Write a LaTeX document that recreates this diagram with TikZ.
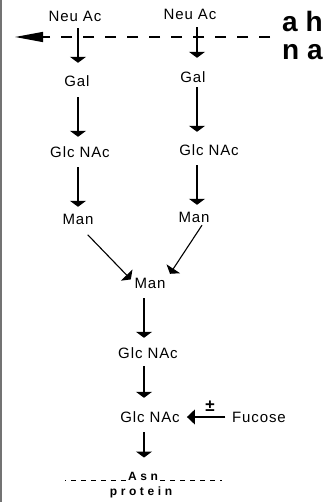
\documentclass[tikz,border=0pt]{standalone}
\usepackage{fontspec}
\setmainfont{Liberation Sans}
\newfontfamily\labfont[LetterSpace=6]{Liberation Sans}
\newfontfamily\spfont[LetterSpace=30]{Liberation Sans}
\usetikzlibrary{arrows.meta}
\begin{document}
\begin{tikzpicture}[x=1pt,y=-1pt,
  lab/.style={font=\labfont\fontsize{15}{18}\selectfont, inner sep=0pt, text height=11pt, text depth=0pt},
  sp/.style={font=\spfont\bfseries\fontsize{12}{14}\selectfont, inner sep=0pt},
  big/.style={font=\bfseries\fontsize{28}{30}\selectfont, inner sep=0pt},
  arr/.style={line width=1.1pt, -{Triangle[width=16pt,length=6pt]}},
  dasharr/.style={line width=1.3pt, dash pattern=on 11pt off 11pt, -{Triangle[width=10pt,length=28pt]}},
  smalldash/.style={line width=0.9pt, dash pattern=on 5pt off 5pt}
]
\useasboundingbox (0,0) rectangle (333,502);
\fill[white] (0,0) rectangle (333,502);
\draw[line width=2pt, black!55] (1,0) -- (1,502);

% column guides
\coordinate (colL) at (78,0);
\coordinate (colR) at (197,0);
\coordinate (colC) at (144,0);

% nodes
\node[lab] (neuL) at (75,16) {Neu Ac};
\node[lab] (neuR) at (190,14) {Neu Ac};
\node[lab] (galL) at (77,81) {Gal};
\node[lab] (galR) at (193,77) {Gal};
\node[lab] (glcL) at (80,152) {Glc NAc};
\node[lab] (glcR) at (209,150) {Glc NAc};
\node[lab] (manL) at (78,219) {Man};
\node[lab] (manR) at (194,217) {Man};
\node[lab] (manC) at (150,283) {Man};
\node[lab] (glc1) at (148,353) {Glc NAc};
\node[lab] (glc2) at (150,417) {Glc NAc};
\node[lab] (fuc) at (259,417) {Fucose};
\node[inner sep=0pt, font=\bfseries\fontsize{17}{17}\selectfont] (pm) at (210,406) {±};
\node[sp, anchor=base] (asn) at (143,480) {Asn};
\node[sp, anchor=base] (prot) at (141,495) {protein};
\node[big, anchor=base west] (ah) at (282,32) {a h};
\node[big, anchor=base west] (na) at (282,60) {n a};

% top dashed arrow
\coordinate (dR) at (270,37);
\coordinate (dL) at (15,37);
\draw[dasharr] (dR) -- (dL);

% left column
\draw[arr, shorten <=6.5pt, shorten >=12.5pt] (neuL.south -| colL) -- (galL.north -| colL);
\draw[arr, shorten <=10.5pt, shorten >=9.5pt] (galL.south -| colL) -- (glcL.north -| colL);
\draw[arr, shorten <=9.5pt, shorten >=6.5pt] (glcL.south -| colL) -- (manL.north -| colL);
% right column
\draw[arr, shorten <=7.5pt, shorten >=13.5pt] (neuR.south -| colR) -- (galR.north -| colR);
\draw[arr, shorten <=4.5pt, shorten >=12.5pt] (galR.south -| colR) -- (glcR.north -| colR);
\draw[arr, shorten <=9.5pt, shorten >=6.5pt] (glcR.south -| colR) -- (manR.north -| colR);
% diagonals
\draw[arr, shorten <=14pt, shorten >=5pt] (manL.south) -- (manC.west);
\draw[arr] ([xshift=8pt,yshift=-2.5pt]manR.south) -- ([xshift=20pt,yshift=3.5pt]manC.north);
% center column
\draw[arr, shorten <=9.5pt, shorten >=9.5pt] (manC.south -| colC) -- (glc1.north -| colC);
\draw[arr, shorten <=7.5pt, shorten >=13.5pt] (glc1.south -| colC) -- (glc2.north -| colC);
\draw[arr, shorten <=9.5pt, shorten >=14pt] (glc2.south -| colC) -- (asn.north -| colC);
% fucose
\draw[line width=1.1pt, -{Triangle[width=15pt,length=8pt]}, shorten <=6.5pt, shorten >=7pt] (fuc.west) -- (glc2.east);

% Asn dashes
\coordinate (aL) at (65,480);
\coordinate (aR) at (222,480);
\draw[smalldash] ([xshift=-2pt]asn.base west) -- (aL);
\draw[smalldash] ([xshift=2pt]asn.base east) -- (aR);
\end{tikzpicture}
\end{document}
